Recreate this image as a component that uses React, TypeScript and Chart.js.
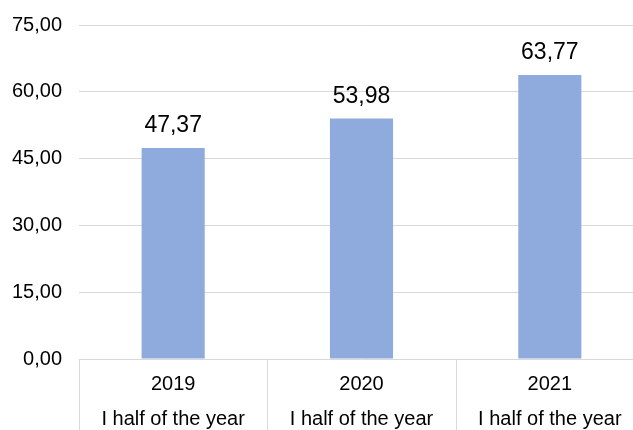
import React, { useEffect, useRef } from "react";
import { Chart, registerables } from "chart.js";

Chart.register(...registerables);

const years = ["2019", "2020", "2021"];
const periodLabels = ["I half of the year", "I half of the year", "I half of the year"];
const values = [47.37, 53.98, 63.77];
const yTicks = [0, 15, 30, 45, 60, 75];

const FONT = '"Liberation Sans", Arial, sans-serif';
const fmt = (v: number) => v.toFixed(2).replace(".", ",");

const multiAxisPlugin = {
  id: "multiAxis",
  afterDraw(chart: any) {
    const { ctx, scales, chartArea } = chart;
    const x = scales.x;
    const n = years.length;
    const cw = (x.right - x.left) / n;
    ctx.save();
    ctx.strokeStyle = "#d9d9d9";
    ctx.lineWidth = 1;
    for (let i = 0; i <= n; i++) {
      const px = Math.round(x.left + i * cw) + 0.5;
      ctx.beginPath();
      ctx.moveTo(px, chartArea.bottom);
      ctx.lineTo(px, chart.height);
      ctx.stroke();
    }
    ctx.fillStyle = "#000";
    ctx.font = `20px ${FONT}`;
    ctx.textAlign = "center";
    ctx.textBaseline = "alphabetic";
    for (let i = 0; i < n; i++) {
      const cx = x.getPixelForValue(i);
      ctx.fillText(years[i], cx, chartArea.bottom + 31);
      ctx.fillText(periodLabels[i], cx, chartArea.bottom + 66);
    }
    // data labels
    const meta = chart.getDatasetMeta(0);
    ctx.font = `23px ${FONT}`;
    meta.data.forEach((bar: any, i: number) => {
      ctx.fillText(fmt(values[i]), bar.x, bar.y - 16);
    });
    ctx.restore();
  },
};

export default function App() {
  const ref = useRef<HTMLCanvasElement | null>(null);
  useEffect(() => {
    if (!ref.current) return;
    const chart = new Chart(ref.current, {
      type: "bar",
      data: {
        labels: years,
        datasets: [
          {
            data: values,
            backgroundColor: "#8FAADC",
            borderWidth: 0,
            categoryPercentage: 1,
            barPercentage: 0.335,
          },
        ],
      },
      options: {
        responsive: false,
        animation: false,
        devicePixelRatio: 1,
        layout: { padding: { top: 25, right: 6, left: 0, bottom: 0 } },
        plugins: { legend: { display: false }, tooltip: { enabled: false } },
        scales: {
          x: {
            grid: { display: false },
            border: { display: false },
            ticks: { display: false },
            afterFit: (s: any) => {
              s.height = 71;
              s.paddingLeft = 0;
              s.paddingRight = 0;
            },
          },
          y: {
            min: 0,
            max: 75,
            afterBuildTicks: (s: any) => {
              s.ticks = yTicks.map((v) => ({ value: v }));
            },
            grid: { color: "#d9d9d9", lineWidth: 1, drawTicks: false },
            border: { display: false },
            ticks: {
              padding: 17,
              color: "#000",
              font: { family: FONT, size: 20 },
              callback: (v: any) => fmt(Number(v)),
            },
            afterFit: (s: any) => {
              s.width = 79;
              s.paddingTop = 0;
              s.paddingBottom = 0;
            },
          },
        },
      },
      plugins: [multiAxisPlugin],
    });
    return () => chart.destroy();
  }, []);
  return (
    <div
      style={{
        position: "fixed",
        left: 0,
        top: 0,
        width: 633,
        height: 430,
        overflow: "hidden",
        background: "#fff",
      }}
    >
      <canvas ref={ref} width={650} height={430} style={{ display: "block" }} />
    </div>
  );
}
